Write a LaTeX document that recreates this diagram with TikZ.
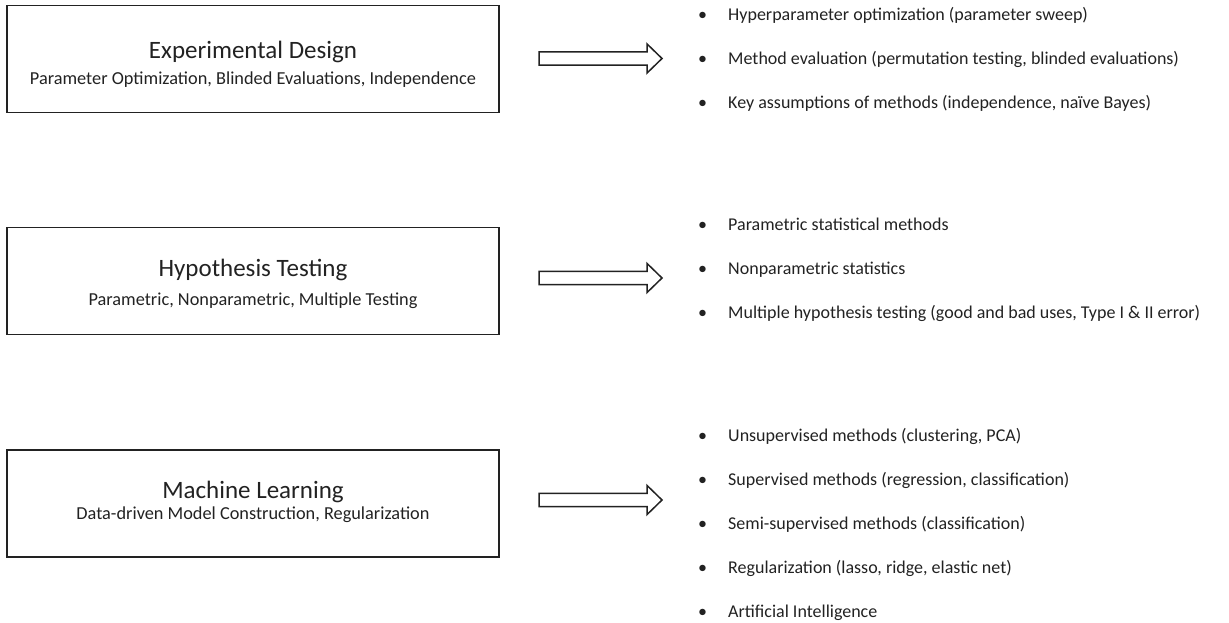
\documentclass[tikz,border=0pt]{standalone}
\usepackage{fontspec}
\setmainfont{Carlito}
\usepackage{tikz}
\usepackage{xcolor}

\definecolor{ink}{HTML}{222222}

\tikzset{
  panel/.style={draw=ink, line width=1.5pt, minimum width=492pt, minimum height=107pt, inner sep=0pt},
  head/.style={anchor=base, inner sep=0pt, text=ink, font=\fontsize{25}{30}\selectfont},
  sub/.style={anchor=base, inner sep=0pt, text=ink, font=\fontsize{18.3}{22}\selectfont},
  item/.style={anchor=base west, inner sep=0pt, text=ink, font=\fontsize{18}{22}\selectfont},
  pics/blockarrow/.style={code={
    \draw[ink, line width=1.5pt, line join=miter]
      (0,6.6) -- (108,6.6) -- (108,14.6) -- (123,0) -- (108,-14.6) -- (108,-6.6) -- (0,-6.6) -- cycle;
  }}
}

\newcommand{\bul}{\makebox[30pt][l]{\textbullet}}

\begin{document}
\begin{tikzpicture}[x=1pt, y=1pt]
\useasboundingbox (0,0) rectangle (1229,-623);

% boxes
\node (ed) at (253,-59) [panel]{};
\node (ht) at (253,-281) [panel]{};
\node (ml) at (253,-503.5) [panel]{};

\node (edt) at (253,-59) [head]{Experimental Design};
\node (eds) at (253,-85) [sub]{Parameter Optimization, Blinded Evaluations, Independence};
\node (htt) at (253,-276) [head]{Hypothesis Testing};
\node (hts) at (253,-305) [sub]{Parametric, Nonparametric, Multiple Testing};
\node (mlt) at (253,-498) [head]{Machine Learning};
\node (mls) at (253,-519) [sub]{Data-driven Model Construction, Regularization};

% arrows
\pic at (539,-58.5) {blockarrow};
\pic at (539,-278) {blockarrow};
\pic at (539,-500) {blockarrow};

% bullet lists
\node (e1) at (698,-21) [item]{\bul Hyperparameter optimization (parameter sweep)};
\node (e2) at (698,-65) [item]{\bul Method evaluation (permutation testing, blinded evaluations)};
\node (e3) at (698,-109) [item]{\bul Key assumptions of methods (independence, naïve Bayes)};

\node (h1) at (698,-230) [item]{\bul Parametric statistical methods};
\node (h2) at (698,-274) [item]{\bul Nonparametric statistics};
\node (h3) at (698,-318) [item]{\bul Multiple hypothesis testing (good and bad uses, Type I \& II error)};

\node (m1) at (698,-441) [item]{\bul Unsupervised methods (clustering, PCA)};
\node (m2) at (698,-485) [item]{\bul Supervised methods (regression, classification)};
\node (m3) at (698,-529) [item]{\bul Semi-supervised methods (classification)};
\node (m4) at (698,-573) [item]{\bul Regularization (lasso, ridge, elastic net)};
\node (m5) at (698,-617) [item]{\bul Artificial Intelligence};
\end{tikzpicture}
\end{document}
